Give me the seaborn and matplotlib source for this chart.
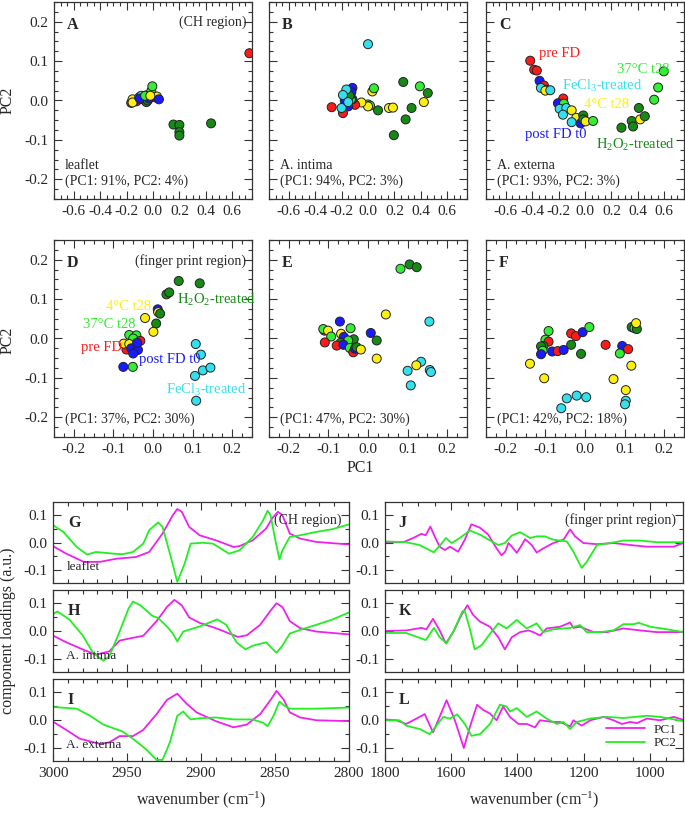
import numpy as np
import pandas as pd
import seaborn as sns
import matplotlib
matplotlib.use("Agg")
import matplotlib.pyplot as plt
from matplotlib.ticker import MultipleLocator

# ---------------- scatter data (PC1, PC2, group) ----------------
A_pc1 = [-0.165, -0.125, -0.14, -0.155, -0.155, -0.105, -0.09, -0.075, -0.05, -0.06, -0.05, -0.04,
         -0.1, -0.03, -0.013, -0.005, -0.06, 0.02, 0.03, -0.02, 0.045, 0.155, 0.2, 0.2, 0.2, 0.44, 0.73]
A_pc2 = [-0.006, -0.002, 0.0, 0.003, -0.005, 0.008, 0.012, 0.003, 0.013, 0.0, -0.004, 0.0,
         0.005, 0.005, 0.024, 0.036, 0.012, 0.008, 0.01, 0.012, 0.003, -0.061, -0.062, -0.08, -0.089, -0.058, 0.12]
A_grp = ["pre", "pre", "pre", "c4", "c4", "fecl", "fecl", "fecl", "fecl", "fecl", "h2o2", "h2o2",
         "post", "post", "c37", "c37", "c37", "post", "c4", "c4", "post", "h2o2", "h2o2", "h2o2", "h2o2", "h2o2", "pre"]

B_pc1 = [0.0, 0.267, 0.393, 0.453, 0.423, 0.33, 0.285, 0.196, 0.159, 0.189, 0.076, 0.033, 0.045,
         0.0, 0.015, 0.0, -0.05, -0.275, -0.19, -0.098, -0.118, -0.126, -0.176, -0.15, -0.118,
         -0.13, -0.14, -0.2, -0.164, -0.19, -0.15]
B_pc2 = [0.143, 0.047, 0.036, 0.019, -0.004, -0.019, -0.048, -0.088, -0.019, -0.018, -0.025, 0.023, 0.031,
         -0.01, -0.013, -0.015, -0.005, -0.017, -0.032, -0.011, 0.032, 0.021, 0.0, -0.015, 0.003,
         0.002, 0.012, -0.019, 0.028, 0.014, -0.004]
B_grp = ["fecl", "h2o2", "c37", "h2o2", "c4", "h2o2", "h2o2", "h2o2", "c4", "c4", "h2o2", "c4", "c37",
         "c37", "c37", "c4", "c4", "pre", "pre", "pre", "post", "post", "post", "post", "post",
         "c37", "h2o2", "fecl", "fecl", "fecl", "fecl"]

C_pc1 = [-0.415, -0.385, -0.365, -0.344, -0.311, -0.334, -0.291, -0.3, -0.263, -0.165, -0.205, -0.16,
         -0.192, -0.142, -0.167, -0.101, -0.066, -0.101, -0.033, -0.013, -0.013, 0.005, 0.061,
         0.276, 0.354, 0.364, 0.408, 0.418, 0.453, 0.524, 0.554, 0.597]
C_pc2 = [0.101, 0.078, 0.076, 0.05, 0.038, 0.032, 0.027, 0.025, 0.026, 0.005, -0.007, -0.008,
         -0.021, -0.019, -0.036, -0.025, -0.044, -0.055, -0.058, -0.038, -0.048, -0.053, -0.052,
         -0.069, -0.052, -0.066, -0.019, -0.048, -0.04, 0.002, 0.033, 0.074]
C_grp = ["pre", "pre", "pre", "post", "pre", "fecl", "c37", "c4", "fecl", "pre", "post", "c37",
         "fecl", "fecl", "fecl", "c4", "c4", "fecl", "post", "h2o2", "h2o2", "c4", "c37",
         "h2o2", "h2o2", "h2o2", "h2o2", "c4", "h2o2", "c37", "c37", "c37"]

D_pc1 = [0.065, 0.118, 0.034, 0.041, 0.012, 0.013, 0.018, -0.02, 0.008, 0.001, -0.06, -0.042, -0.05,
         -0.067, -0.032, -0.074, -0.06, -0.055, -0.038, -0.05, -0.04, -0.075, -0.051,
         0.108, 0.121, 0.126, 0.145, 0.106, 0.109]
D_pc2 = [0.146, 0.14, 0.112, 0.117, 0.074, 0.067, 0.063, 0.052, 0.038, 0.017, 0.009, 0.008, 0.0,
         -0.028, -0.006, -0.013, -0.014, -0.025, -0.029, -0.038, -0.011, -0.072, -0.072,
         -0.014, -0.041, -0.081, -0.074, -0.095, -0.158]
D_grp = ["h2o2", "h2o2", "h2o2", "h2o2", "post", "c4", "h2o2", "c4", "h2o2", "c4", "c37", "c37", "c37",
         "pre", "pre", "c4", "c4", "post", "post", "post", "post", "post", "c37",
         "fecl", "fecl", "fecl", "fecl", "fecl", "fecl"]

E_pc1 = [0.082, 0.105, 0.123, 0.045, 0.155, -0.071, 0.007, 0.022, 0.022, 0.134, 0.122, 0.1, 0.156, 0.159, 0.108,
         -0.11, -0.113, -0.101, -0.093, -0.109, -0.068, -0.061, -0.044, -0.036, -0.05, -0.069, -0.079,
         -0.062, -0.046, -0.037, -0.033, -0.029, -0.018]
E_pc2 = [0.177, 0.188, 0.181, 0.061, 0.043, 0.043, 0.014, -0.005, -0.051, -0.059, -0.068, -0.082, -0.08, -0.085, -0.119,
         0.02, 0.024, 0.02, 0.005, -0.01, 0.012, 0.004, 0.026, -0.002, -0.005, -0.011, -0.018,
         -0.016, -0.024, -0.035, -0.026, -0.022, -0.028]
E_grp = ["c37", "h2o2", "h2o2", "c4", "fecl", "post", "post", "h2o2", "c4", "fecl", "c4", "fecl", "fecl", "fecl", "fecl",
         "pre", "c37", "c4", "c37", "pre", "c4", "post", "c37", "h2o2", "c37", "h2o2", "pre",
         "post", "c37", "pre", "post", "h2o2", "c4"]

F_pc1 = [0.118, 0.125, 0.131, 0.129, 0.052, 0.094, 0.109, 0.088, 0.117, 0.072, 0.103, 0.103, 0.101,
         -0.06, -0.046, -0.021, 0.003, -0.139, -0.103, -0.092, -0.1, -0.092, -0.105, -0.111, -0.107,
         -0.111, -0.083, -0.069, -0.054, -0.035, -0.01, -0.035, -0.023, -0.006, 0.011]
F_pc2 = [0.029, 0.026, 0.024, 0.039, -0.016, -0.019, -0.027, -0.038, -0.069, -0.103, -0.131, -0.158, -0.167,
         -0.177, -0.152, -0.145, -0.149, -0.064, -0.101, 0.019, -0.003, -0.008, -0.019, -0.02, -0.031,
         -0.04, -0.033, -0.032, -0.029, -0.016, -0.039, 0.013, 0.006, 0.016, 0.029]
F_grp = ["h2o2", "c37", "h2o2", "c4", "pre", "post", "pre", "c37", "c4", "c4", "c4", "fecl", "fecl",
         "fecl", "fecl", "fecl", "fecl", "c4", "c4", "c37", "c37", "pre", "h2o2", "h2o2", "c37",
         "post", "post", "pre", "post", "h2o2", "h2o2", "pre", "pre", "post", "c37"]

# ---------------- loading spectra ----------------
G_wn1 = [3000, 2991, 2979, 2968, 2957, 2944, 2935, 2926, 2919, 2916, 2913, 2908, 2901, 2890, 2878, 2874,
         2865, 2856, 2852, 2848, 2845, 2840, 2833, 2822, 2800]
G_pc1 = [-0.013, -0.04, -0.07, -0.069, -0.058, -0.052, -0.034, 0.032, 0.098, 0.12, 0.11, 0.056, 0.026, 0.008,
         -0.016, -0.013, 0.008, 0.05, 0.086, 0.11, 0.098, 0.032, 0.014, 0.002, -0.007]
G_wn2 = [3000, 2993, 2984, 2977, 2971, 2959, 2953, 2946, 2939, 2935, 2929, 2926, 2921, 2916, 2911, 2907,
         2899, 2892, 2881, 2874, 2865, 2858, 2855, 2853, 2850, 2847, 2845, 2840, 2833, 2822, 2811, 2800]
G_pc2 = [0.062, 0.038, -0.016, -0.043, -0.034, -0.04, -0.042, -0.034, -0.004, 0.044, 0.072, 0.056, -0.04,
         -0.141, -0.075, -0.004, -0.001, -0.004, -0.04, -0.028, 0.02, 0.08, 0.114, 0.098, 0.014, -0.061,
         -0.028, 0.02, 0.026, 0.038, 0.048, 0.065]

H_wn1 = [3000, 2991, 2980, 2971, 2962, 2955, 2946, 2939, 2930, 2923, 2918, 2913, 2908, 2901, 2890, 2875,
         2869, 2860, 2853, 2849, 2845, 2840, 2833, 2822, 2800]
H_pc1 = [-0.016, -0.04, -0.065, -0.084, -0.072, -0.034, -0.024, -0.017, 0.035, 0.085, 0.11, 0.091, 0.048,
         0.029, 0.01, -0.021, -0.015, 0.022, 0.072, 0.098, 0.085, 0.035, 0.01, -0.002, -0.012]
H_wn2 = [3000, 2997, 2989, 2980, 2973, 2966, 2962, 2955, 2949, 2946, 2941, 2933, 2929, 2923, 2919, 2916,
         2912, 2901, 2889, 2883, 2876, 2870, 2865, 2856, 2849, 2845, 2840, 2833, 2822, 2811, 2800]
H_pc2 = [0.06, 0.069, 0.041, -0.015, -0.077, -0.105, -0.09, -0.002, 0.079, 0.104, 0.091, 0.054, 0.046,
         0.016, -0.009, -0.037, -0.002, 0.016, 0.041, 0.022, -0.04, -0.065, -0.052, -0.04, -0.077, -0.052,
         -0.009, 0.004, 0.022, 0.041, 0.066]

I_wn1 = [3000, 2991, 2982, 2968, 2962, 2955, 2946, 2939, 2930, 2923, 2916, 2910, 2903, 2890, 2878, 2869,
         2860, 2853, 2849, 2844, 2840, 2833, 2822, 2800]
I_pc1 = [-0.006, -0.035, -0.066, -0.085, -0.079, -0.057, -0.057, -0.035, 0.021, 0.071, 0.093, 0.059, 0.027,
         -0.004, -0.026, -0.016, 0.021, 0.071, 0.103, 0.071, 0.027, 0.009, -0.001, -0.004]
I_wn2 = [3000, 2984, 2975, 2966, 2953, 2946, 2937, 2930, 2926, 2921, 2916, 2912, 2907, 2901, 2890, 2878,
         2865, 2858, 2855, 2851, 2847, 2844, 2840, 2822, 2800]
I_pc2 = [0.046, 0.04, 0.015, -0.016, -0.041, -0.066, -0.104, -0.141, -0.141, -0.079, 0.015, 0.03, 0.002,
         0.006, 0.009, 0.002, 0.002, -0.01, -0.022, 0.015, 0.065, 0.052, 0.04, 0.04, 0.044]

J_wn1 = [1800, 1745, 1715, 1690, 1677, 1663, 1650, 1635, 1619, 1604, 1579, 1559, 1539, 1513, 1488, 1463,
         1448, 1437, 1427, 1417, 1402, 1387, 1377, 1357, 1342, 1322, 1292, 1261, 1241, 1226, 1201, 1160,
         1110, 1059, 1009, 928, 900]
J_pc1 = [0.001, 0.001, 0.016, 0.031, 0.026, 0.057, 0.022, -0.015, -0.027, -0.015, -0.033, 0.01, 0.065,
         0.053, 0.028, -0.021, -0.046, -0.033, -0.002, -0.015, -0.037, -0.009, 0.012, -0.009, -0.036,
         -0.021, -0.002, 0.01, 0.047, 0.022, -0.002, -0.006, -0.002, -0.009, -0.015, -0.015, -0.002]
J_wn2 = [1800, 1736, 1696, 1653, 1635, 1616, 1599, 1574, 1544, 1513, 1478, 1458, 1438, 1417, 1392, 1362,
         1342, 1317, 1292, 1251, 1231, 1206, 1191, 1160, 1120, 1080, 1029, 979, 900]
J_pc2 = [0.004, 0.001, -0.009, -0.035, -0.012, 0.016, -0.002, 0.016, 0.043, 0.028, 0.004, -0.009, -0.002,
         0.025, 0.037, 0.016, 0.022, 0.022, 0.01, 0.004, -0.033, -0.091, -0.07, -0.009, -0.002, 0.007,
         0.007, 0.001, 0.001]

K_wn1 = [1800, 1736, 1690, 1675, 1655, 1635, 1616, 1594, 1569, 1551, 1534, 1513, 1483, 1458, 1438, 1417,
         1392, 1367, 1352, 1332, 1312, 1271, 1241, 1231, 1211, 1170, 1130, 1080, 1029, 979, 900]
K_pc1 = [0.0, 0.002, 0.011, 0.006, 0.043, 0.002, -0.044, -0.004, 0.057, 0.091, 0.057, 0.033, 0.015, -0.022,
         -0.065, -0.022, -0.004, 0.002, -0.004, -0.016, 0.009, 0.015, 0.03, 0.011, 0.015, -0.004, -0.004,
         0.009, 0.002, -0.004, -0.004]
K_wn2 = [1800, 1736, 1677, 1652, 1635, 1614, 1589, 1566, 1559, 1544, 1529, 1508, 1483, 1458, 1433, 1402,
         1372, 1342, 1322, 1292, 1241, 1211, 1191, 1150, 1110, 1080, 1049, 1034, 999, 948, 900]
K_pc2 = [-0.007, -0.007, -0.032, 0.011, -0.022, -0.044, 0.009, 0.07, 0.07, 0.009, -0.065, -0.05, -0.01,
         0.027, 0.009, 0.039, 0.009, 0.027, -0.004, 0.006, 0.011, 0.021, -0.004, -0.004, 0.002, 0.024,
         0.024, 0.029, 0.015, 0.006, -0.004]

L_wn1 = [1800, 1766, 1736, 1705, 1680, 1655, 1635, 1614, 1589, 1562, 1544, 1522, 1504, 1483, 1463, 1443,
         1423, 1397, 1372, 1347, 1332, 1292, 1271, 1241, 1231, 1206, 1180, 1140, 1110, 1085, 1059, 1039,
         1009, 969, 928, 900]
L_pc1 = [0.002, -0.001, -0.014, 0.005, 0.021, -0.044, 0.011, 0.07, -0.001, -0.099, -0.026, 0.054, 0.036,
         0.023, -0.001, 0.048, 0.011, -0.014, -0.014, -0.026, -0.001, -0.007, -0.007, -0.023, -0.001,
         -0.02, -0.001, 0.011, -0.001, -0.014, -0.007, -0.011, 0.005, -0.001, 0.011, 0.001]
L_wn2 = [1800, 1756, 1736, 1695, 1665, 1645, 1624, 1604, 1582, 1559, 1539, 1513, 1483, 1453, 1433, 1423,
         1402, 1372, 1342, 1312, 1281, 1261, 1241, 1221, 1180, 1130, 1080, 1009, 969, 900]
L_pc2 = [-0.001, -0.001, -0.02, -0.032, -0.05, -0.02, 0.011, 0.005, 0.02, -0.014, -0.056, -0.05, -0.014,
         0.054, 0.048, 0.03, 0.042, 0.011, 0.03, 0.005, -0.014, -0.007, -0.032, -0.007, 0.005, 0.011,
         0.007, 0.015, 0.011, -0.004]

# ---------------- style ----------------
sns.set_theme(style="ticks")
plt.rcParams["font.family"] = ["Liberation Serif", "DejaVu Serif"]
plt.rcParams["mathtext.fontset"] = "custom"
plt.rcParams["mathtext.rm"] = "Liberation Serif"
plt.rcParams["mathtext.it"] = "Liberation Serif:italic"
plt.rcParams["axes.unicode_minus"] = False

pal = {"pre": "#ff1a1a", "post": "#1a1aff", "fecl": "#33e0ee", "c4": "#ffee11",
       "c37": "#33ee33", "h2o2": "#158a15"}
C_PC1 = "#ee22ee"
C_PC2 = "#22ee22"

W, H = 685, 813
fig = plt.figure(figsize=(W / 100, H / 100), dpi=100)


def ax_px(l, t, r, b):
    return fig.add_axes([l / W, 1 - b / H, (r - l) / W, (b - t) / H])


def style(ax, xmaj, xmin, ymaj, ymin):
    ax.xaxis.set_major_locator(MultipleLocator(xmaj))
    ax.xaxis.set_minor_locator(MultipleLocator(xmin))
    ax.yaxis.set_major_locator(MultipleLocator(ymaj))
    ax.yaxis.set_minor_locator(MultipleLocator(ymin))
    ax.tick_params(which="both", direction="in", top=True, right=True, labelsize=11,
                   color="#333333", width=0.8)
    ax.tick_params(which="major", length=6, pad=4)
    ax.tick_params(which="minor", length=3)
    for s in ax.spines.values():
        s.set_linewidth(0.9)
        s.set_color("#333333")
    ax.set_xlabel("")
    ax.set_ylabel("")


def scatter_panel(ax, x, y, g, lim):
    df = pd.DataFrame({"PC1": x, "PC2": y, "group": g})
    sns.scatterplot(data=df, x="PC1", y="PC2", hue="group", palette=pal, s=42,
                    edgecolor="#222222", linewidth=0.7, legend=False, ax=ax, zorder=3)
    ax.set_xlim(-lim, lim)
    ax.set_ylim(-0.25, 0.25)


top_x = [(54, 252), (269, 467), (486, 684)]
mid = (240, 437)
top = (2, 199)

axA = ax_px(top_x[0][0], top[0], top_x[0][1], top[1])
axB = ax_px(top_x[1][0], top[0], top_x[1][1], top[1])
axC = ax_px(top_x[2][0], top[0], top_x[2][1], top[1])
axD = ax_px(top_x[0][0], mid[0], top_x[0][1], mid[1])
axE = ax_px(top_x[1][0], mid[0], top_x[1][1], mid[1])
axF = ax_px(top_x[2][0], mid[0], top_x[2][1], mid[1])

for ax, (x, y, g) in zip([axA, axB, axC], [(A_pc1, A_pc2, A_grp), (B_pc1, B_pc2, B_grp), (C_pc1, C_pc2, C_grp)]):
    scatter_panel(ax, x, y, g, 0.75)
    style(ax, 0.2, 0.05, 0.1, 0.025)
for ax, (x, y, g) in zip([axD, axE, axF], [(D_pc1, D_pc2, D_grp), (E_pc1, E_pc2, E_grp), (F_pc1, F_pc2, F_grp)]):
    scatter_panel(ax, x, y, g, 0.25)
    style(ax, 0.1, 0.025, 0.1, 0.025)
for ax in [axB, axC, axE, axF]:
    ax.tick_params(labelleft=False)

fs_t = 10
for ax, letter in zip([axA, axB, axC, axD, axE, axF], "ABCDEF"):
    ax.text(0.065, 0.885, letter, transform=ax.transAxes, fontsize=11.5, fontweight="bold", va="center")

axA.text(0.97, 0.895, "(CH region)", transform=axA.transAxes, ha="right", va="center", fontsize=fs_t)
axD.text(0.97, 0.895, "(finger print region)", transform=axD.transAxes, ha="right", va="center", fontsize=fs_t)
for ax, tissue, var in [(axA, "leaflet", "(PC1: 91%, PC2: 4%)"),
                        (axB, "A. intima", "(PC1: 94%, PC2: 3%)"),
                        (axC, "A. externa", "(PC1: 93%, PC2: 3%)")]:
    ax.text(0.055, 0.17, tissue, transform=ax.transAxes, fontsize=fs_t, va="center")
    ax.text(0.055, 0.09, var, transform=ax.transAxes, fontsize=fs_t, va="center")
for ax, var in [(axD, "(PC1: 37%, PC2: 30%)"), (axE, "(PC1: 47%, PC2: 30%)"), (axF, "(PC1: 42%, PC2: 18%)")]:
    ax.text(0.055, 0.09, var, transform=ax.transAxes, fontsize=fs_t, va="center")

# group labels in C and D
lab_fs = 10.5
axC.text(-0.35, 0.119, "pre FD", color=pal["pre"], fontsize=lab_fs, va="center")
axC.text(-0.172, 0.038, "FeCl$_3$-treated", color=pal["fecl"], fontsize=lab_fs, va="center")
axC.text(-0.008, -0.01, "4°C t28", color=pal["c4"], fontsize=lab_fs, va="center")
axC.text(-0.458, -0.087, "post FD t0", color=pal["post"], fontsize=lab_fs, va="center")
axC.text(0.081, -0.114, "H$_2$O$_2$-treated", color=pal["h2o2"], fontsize=lab_fs, va="center")
axC.text(0.246, 0.079, "37°C t28", color=pal["c37"], fontsize=lab_fs, va="center")

axD.text(-0.119, 0.082, "4°C t28", color=pal["c4"], fontsize=lab_fs, va="center")
axD.text(-0.176, 0.035, "37°C t28", color=pal["c37"], fontsize=lab_fs, va="center")
axD.text(-0.181, -0.024, "pre FD", color=pal["pre"], fontsize=lab_fs, va="center")
axD.text(-0.036, -0.053, "post FD t0", color=pal["post"], fontsize=lab_fs, va="center")
axD.text(0.061, 0.099, "H$_2$O$_2$-treated", color=pal["h2o2"], fontsize=lab_fs, va="center")
axD.text(0.034, -0.13, "FeCl$_3$-treated", color=pal["fecl"], fontsize=lab_fs, va="center")

fig.text(8 / W, 1 - 100 / H, "PC2", rotation=90, ha="center", va="center", fontsize=11.5)
fig.text(8 / W, 1 - 340 / H, "PC2", rotation=90, ha="center", va="center", fontsize=11.5)
fig.text(360 / W, 1 - 468 / H, "PC1", ha="center", va="center", fontsize=11.5)

# ---------------- loading panels ----------------
rows = [(502, 583), (590, 672), (679, 761)]
lcol = (53, 349)
rcol = (385, 683)


def load_panel(ax, wn1, v1, wn2, v2, xlim, legend=False):
    df = pd.concat([pd.DataFrame({"wn": wn1, "val": v1, "pc": "PC1"}),
                    pd.DataFrame({"wn": wn2, "val": v2, "pc": "PC2"})], ignore_index=True)
    sns.lineplot(data=df, x="wn", y="val", hue="pc", palette={"PC1": C_PC1, "PC2": C_PC2},
                 estimator=None, linewidth=1.3, legend=legend, ax=ax)
    ax.set_xlim(*xlim)
    ax.set_ylim(-0.145, 0.145)


panels = {}
spec = [("G", lcol, 0, G_wn1, G_pc1, G_wn2, G_pc2), ("H", lcol, 1, H_wn1, H_pc1, H_wn2, H_pc2),
        ("I", lcol, 2, I_wn1, I_pc1, I_wn2, I_pc2), ("J", rcol, 0, J_wn1, J_pc1, J_wn2, J_pc2),
        ("K", rcol, 1, K_wn1, K_pc1, K_wn2, K_pc2), ("L", rcol, 2, L_wn1, L_pc1, L_wn2, L_pc2)]
for name, col, r, w1, p1, w2, p2 in spec:
    ax = ax_px(col[0], rows[r][0], col[1], rows[r][1])
    left = col is lcol
    load_panel(ax, w1, p1, w2, p2, (3000, 2800) if left else (1800, 900), legend=(name == "L"))
    if left:
        style(ax, 50, 10, 0.1, 0.05)
    else:
        style(ax, 200, 50, 0.1, 0.05)
    if r < 2:
        ax.tick_params(labelbottom=False)
    ax.text(0.05 if left else 0.045, 0.74, name, transform=ax.transAxes, fontsize=11.5,
            fontweight="bold", va="center")
    panels[name] = ax

panels["G"].text(0.975, 0.78, "(CH region)", transform=panels["G"].transAxes, ha="right", va="center", fontsize=fs_t)
panels["J"].text(0.975, 0.78, "(finger print region)", transform=panels["J"].transAxes, ha="right", va="center", fontsize=fs_t)
for n, t in [("G", "leaflet"), ("H", "A. intima"), ("I", "A. externa")]:
    panels[n].text(0.045, 0.2, t, transform=panels[n].transAxes, fontsize=9.5, va="center")

leg = panels["L"].legend(loc="lower right", frameon=False, fontsize=9.5, handlelength=3.0,
                         borderaxespad=0.1, labelspacing=0.1, handletextpad=0.6,
                         bbox_to_anchor=(1.0, 0.06))

fig.text(8 / W, 1 - 631 / H, "component loadings (a.u.)", rotation=90, ha="center", va="center", fontsize=11.5)
fig.text(201 / W, 1 - 800 / H, "wavenumber (cm$^{-1}$)", ha="center", va="center", fontsize=11.5)
fig.text(534 / W, 1 - 800 / H, "wavenumber (cm$^{-1}$)", ha="center", va="center", fontsize=11.5)

fig.savefig("out.png", dpi=100)
